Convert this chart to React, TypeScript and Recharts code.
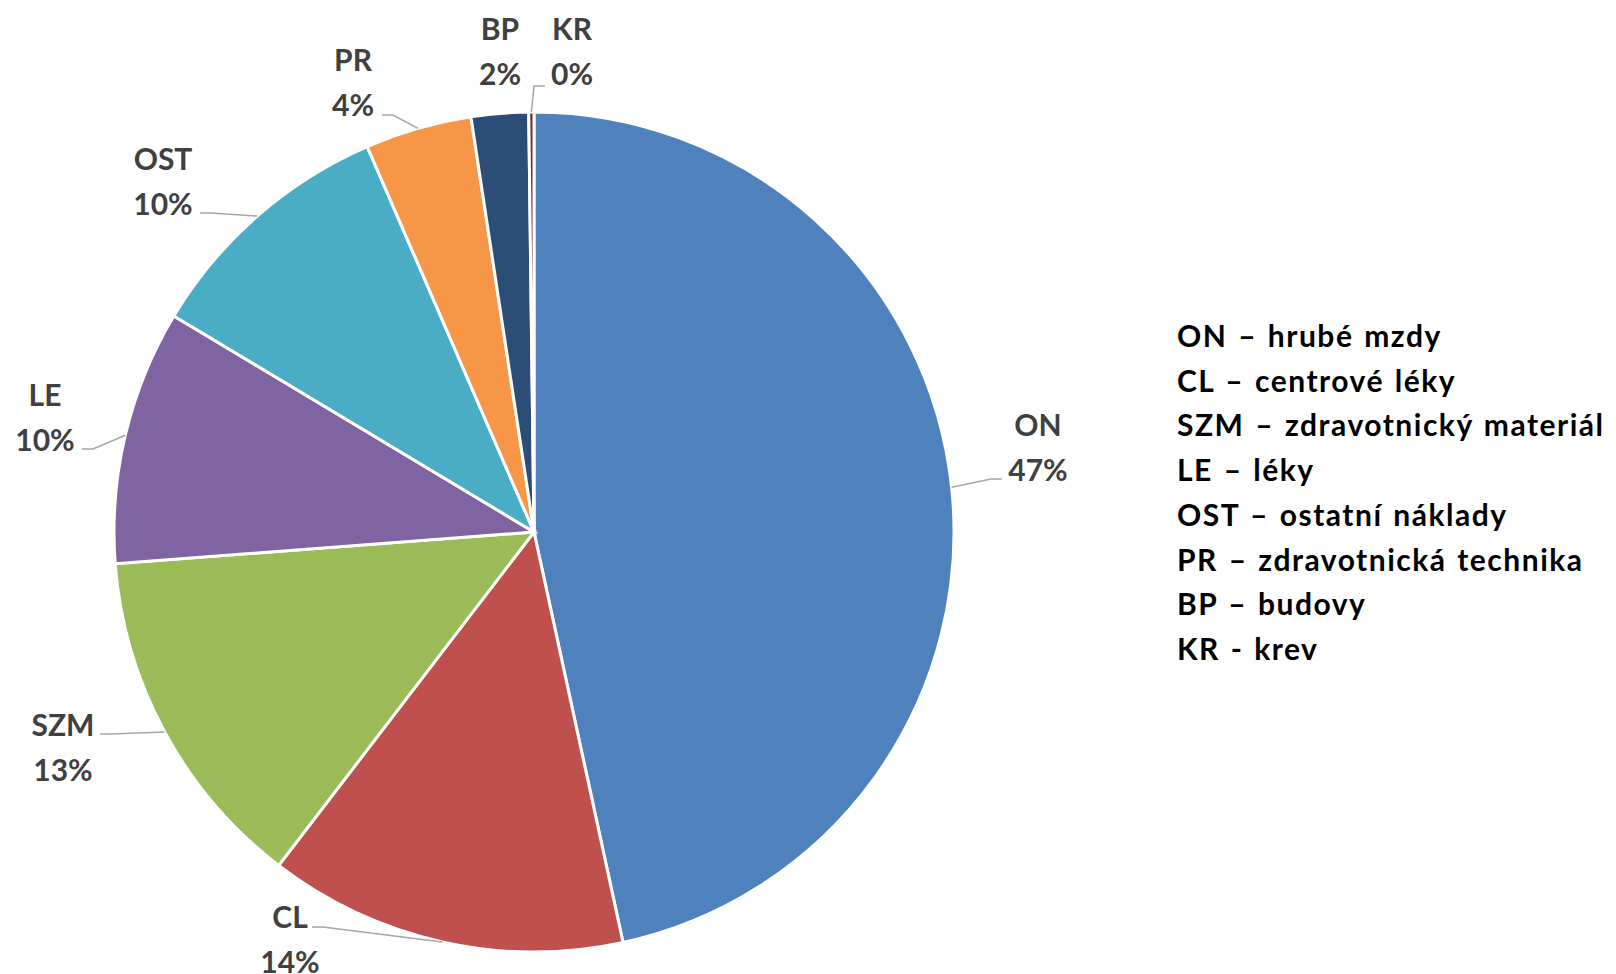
import React from 'react';
import { PieChart, Pie, Cell, Legend } from 'recharts';

// cost categories (share of total, %)
const codes = ['ON', 'CL', 'SZM', 'LE', 'OST', 'PR', 'BP', 'KR'];
const shares = [46.6, 13.8, 13.4, 9.8, 9.9, 4.1, 2.2, 0.2];
const legendLines = [
  'ON – hrubé mzdy',
  'CL – centrové léky',
  'SZM – zdravotnický materiál',
  'LE – léky',
  'OST – ostatní náklady',
  'PR – zdravotnická technika',
  'BP – budovy',
  'KR - krev',
];

const colors = ['#4F81BD', '#C0504D', '#9BBB59', '#8064A2', '#4BACC6', '#F79646', '#2C4D75', '#772C2A'];

// hand-placed label blocks (offset from pie centre) and leader ends, like the dragged Excel labels
const labelPos = [
  { dx: 504, dy: -86, ex: 468, ey: -53 },
  { dx: -244, dy: 406, ex: -222, ey: 395 },
  { dx: -471, dy: 214, ex: -434, ey: 202 },
  { dx: -489, dy: -116, ex: -452, ey: -83 },
  { dx: -371, dy: -352, ex: -334, ey: -319 },
  { dx: -181, dy: -451, ex: -152, ey: -417 },
  { dx: -34, dy: -482, ex: null, ey: null },
  { dx: 38, dy: -482, ex: 11, ey: -446 },
];

const data = codes.map((c, i) => ({ name: c, value: shares[i] }));

const FONT = 'Lato, "Open Sans", sans-serif';
const RAD = Math.PI / 180;

function renderLabel(props: any) {
  const { cx, cy, midAngle, outerRadius, index, percent, name } = props;
  const p = labelPos[index];
  const tx = cx + p.dx;
  const ty = cy + p.dy;
  let leader = null;
  if (p.ex !== null) {
    const sx = cx + outerRadius * Math.cos(-midAngle * RAD);
    const sy = cy + outerRadius * Math.sin(-midAngle * RAD);
    const ex = cx + p.ex;
    const ey = cy + (p.ey as number);
    const elbowX = ex + (tx > ex ? -11 : 11);
    leader = (
      <polyline
        points={`${sx},${sy} ${elbowX},${ey} ${ex},${ey}`}
        fill="none"
        stroke="#A6A6A6"
        strokeWidth={1.5}
      />
    );
  }
  return (
    <g>
      {leader}
      <text x={tx} y={ty - 22} textAnchor="middle" dominantBaseline="central" fill="#404040"
        fontFamily={FONT} fontWeight={700} fontSize={30}>
        {name}
      </text>
      <text x={tx} y={ty + 23} textAnchor="middle" dominantBaseline="central" fill="#404040"
        fontFamily={FONT} fontWeight={700} fontSize={30}>
        {`${Math.round(percent * 100)}%`}
      </text>
    </g>
  );
}

function LegendBox() {
  return (
    <div style={{ fontFamily: FONT, fontWeight: 700, fontSize: 30, color: '#000', lineHeight: '44.7px', whiteSpace: 'nowrap', letterSpacing: 1.5, wordSpacing: 2 }}>
      {legendLines.map((t) => (
        <div key={t}>{t}</div>
      ))}
    </div>
  );
}

export default function App() {
  return (
    <div style={{ position: 'absolute', left: 0, top: 0, width: 1616, height: 974, background: '#fff' }}>
      <PieChart width={1616} height={974} margin={{ top: 0, right: 0, bottom: 0, left: 0 }}>
        <Pie
          data={data}
          dataKey="value"
          nameKey="name"
          cx={534}
          cy={532}
          outerRadius={420}
          startAngle={90}
          endAngle={-270}
          stroke="#FFFFFF"
          strokeWidth={3}
          label={renderLabel}
          labelLine={false}
          isAnimationActive={false}
        >
          {data.map((d, i) => (
            <Cell key={d.name} fill={colors[i]} />
          ))}
        </Pie>
        <Legend
          content={() => <LegendBox />}
          wrapperStyle={{ position: 'absolute', left: 1177, top: 313, width: 'auto' }}
        />
      </PieChart>
    </div>
  );
}
